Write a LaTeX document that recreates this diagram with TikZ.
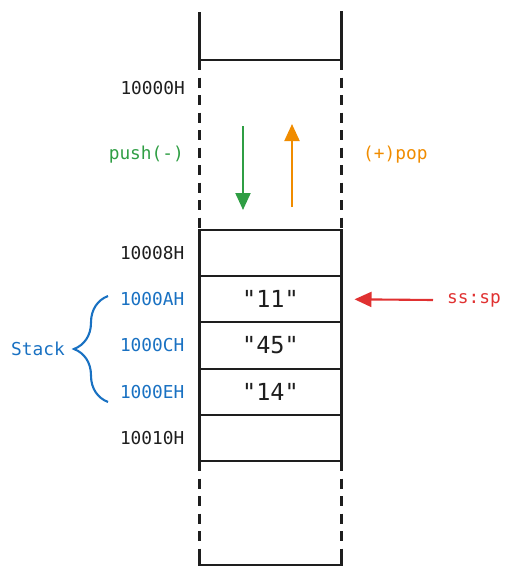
\documentclass[tikz,border=0pt]{standalone}
\usepackage{fontspec}
\setmonofont{DejaVu Sans Mono}
\usetikzlibrary{positioning,arrows.meta,decorations.pathreplacing}
\definecolor{tinta}{HTML}{1E1E1E}
\definecolor{azul}{HTML}{1971C2}
\definecolor{verde}{HTML}{2F9E44}
\definecolor{naranja}{HTML}{F08C00}
\definecolor{rojo}{HTML}{E03131}
\tikzset{
    celda/.style={draw=tinta, line width=2.1pt, minimum width=142pt, minimum height=46.2pt,
        inner sep=0pt, outer sep=0pt, text=tinta, font=\ttfamily\fontsize{23.5}{27}\selectfont},
    dir/.style={inner sep=0pt, text=tinta, font=\ttfamily\fontsize{17.8}{21}\selectfont},
    pared/.style={draw=tinta, line width=2.1pt},
    punteada/.style={pared, dash pattern=on 10pt off 7.5pt},
    flecha/.style={line width=2.1pt, -{Triangle[length=17pt,width=15pt]}},
}
\begin{document}
\begin{tikzpicture}[x=1pt,y=-1pt]
        \useasboundingbox (0,0) rectangle (511,576);
        % Celdas de la pila
        \node[celda] (c8) at (270.5,253.1) {};
        \node[celda, below=0pt of c8] (cA) {"11"};
        \node[celda, below=0pt of cA] (cC) {"45"};
        \node[celda, below=0pt of cC] (cE) {"14"};
        \node[celda, below=0pt of cE] (c10) {};
        % Paredes arriba y abajo
        \draw[pared] (199.5,12) -- (199.5,60) -- (341.5,60) -- (341.5,11);
        \draw[punteada] (199.5,60) -- (c8.north west);
        \draw[punteada] (341.5,60) -- (c8.north east);
        \draw[punteada] (c10.south west) -- (199.5,556);
        \draw[punteada] (c10.south east) -- (341.5,556);
        \draw[pared] (199.5,555) -- (199.5,565) -- (341.5,565) -- (341.5,555);
        % Direcciones
        \node[dir, anchor=east] (d0) at (185,88) {10000H};
        \node[dir, left=15pt of c8] (d8) {10008H};
        \node[dir, left=15pt of cA, text=azul] (dA) {1000AH};
        \node[dir, left=15pt of cC, text=azul] (dC) {1000CH};
        \node[dir, left=15pt of cE, text=azul] (dE) {1000EH};
        \node[dir, left=15pt of c10] (d10) {10010H};
        % push y pop
        \node[dir, anchor=east, text=verde] (push) at (184,155) {push(-)};
        \node[dir, anchor=west, text=naranja] (pop) at (363,155) {(+)pop};
        \coordinate (pushA) at (243,126);
        \coordinate (pushB) at (243,210);
        \coordinate (popA) at (292,207);
        \coordinate (popB) at (292,124);
        \draw[flecha, verde] (pushA) -- (pushB);
        \draw[flecha, naranja] (popA) -- (popB);
        % ss:sp
        \node[dir, anchor=west, text=rojo] (sssp) at (447,300) {ss:sp};
        \draw[flecha, rojo] ([xshift=-14pt]sssp.west) -- ([xshift=13pt]cA.east);
        % Stack
        \node[dir, anchor=east, text=azul] (pila) at (65,349) {Stack};
        \draw[azul, line width=2.1pt, decorate, decoration={brace, amplitude=34pt}]
            (108,402) -- (108,296);
    \end{tikzpicture}
\end{document}
